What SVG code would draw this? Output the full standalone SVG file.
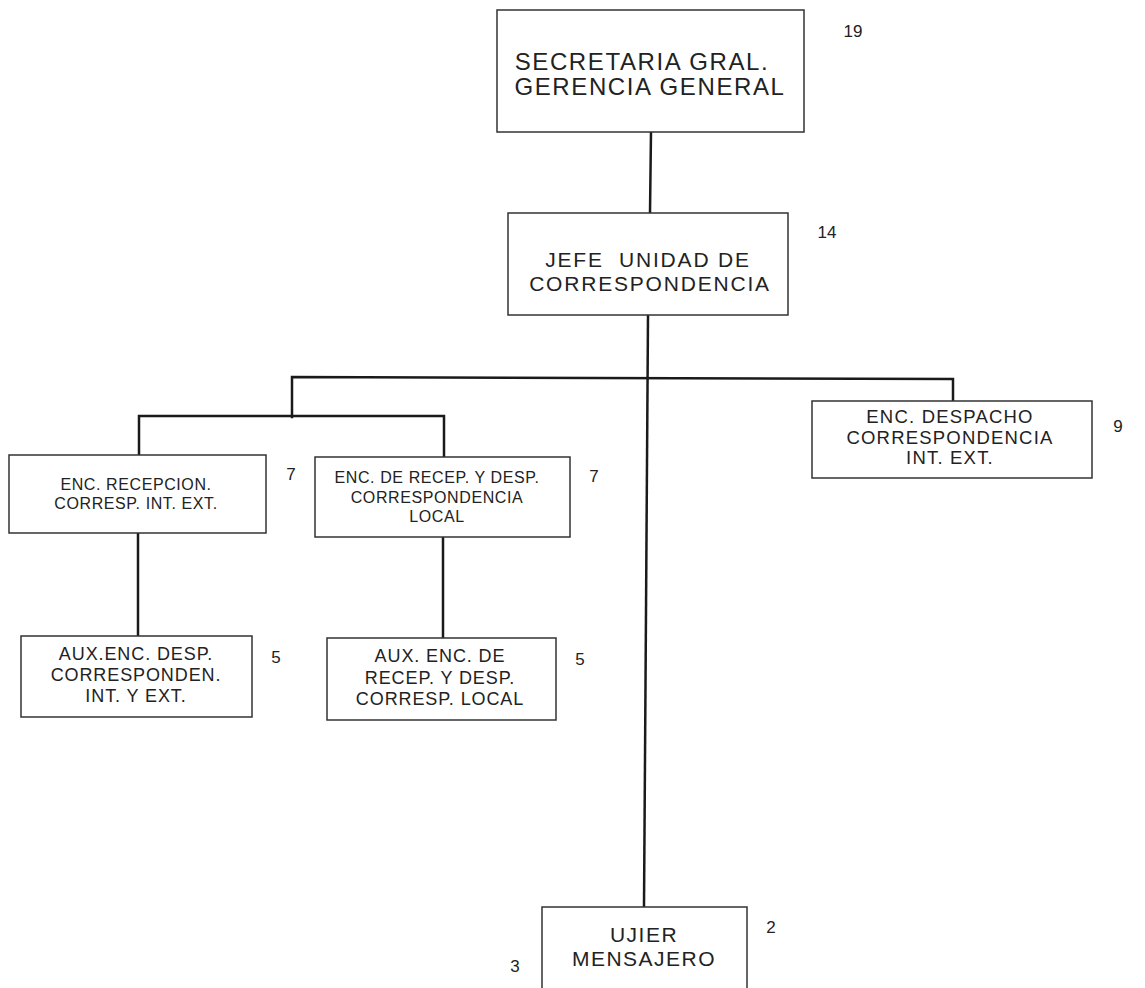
<svg xmlns="http://www.w3.org/2000/svg" width="1145" height="988" viewBox="0 0 1145 988">
<style>
.box{fill:#fff;stroke:#333;stroke-width:1.5}
.conn{fill:none;stroke:#1a1a1a;stroke-width:2.5;stroke-linecap:square}
text{font-family:"Liberation Sans",Arial,sans-serif;fill:#222;text-anchor:middle}
.num{font-size:17px;text-anchor:middle}
</style>
<rect width="1145" height="988" fill="#fff"/>
<g id="connectors">
<line class="conn" x1="651" y1="132" x2="650" y2="213"/>
<line class="conn" x1="648" y1="315" x2="644" y2="907"/>
<polyline class="conn" points="292,417 292,377 953,379 953,401"/>
<polyline class="conn" points="139,456 139,416 444,416 444,457"/>
<line class="conn" x1="138" y1="533" x2="138" y2="636"/>
<line class="conn" x1="443" y1="537" x2="443" y2="638"/>
</g>
<g id="n-secretaria">
<rect class="box" x="497" y="10" width="307" height="122"/>
<text x="642" y="70" font-size="24" letter-spacing="1.6">SECRETARIA GRAL.</text>
<text x="650" y="95" font-size="24" letter-spacing="1.6">GERENCIA GENERAL</text>
<text class="num" x="853" y="37">19</text>
</g>
<g id="n-jefe">
<rect class="box" x="508" y="213" width="280" height="102"/>
<text x="648" y="267" font-size="21" letter-spacing="1.8" xml:space="preserve">JEFE  UNIDAD DE</text>
<text x="650" y="291" font-size="21" letter-spacing="1.8">CORRESPONDENCIA</text>
<text class="num" x="827" y="238">14</text>
</g>
<g id="n-enc-recepcion">
<rect class="box" x="9" y="455" width="257" height="78"/>
<text x="136" y="490" font-size="16" letter-spacing="0.6">ENC. RECEPCION.</text>
<text x="136" y="509" font-size="16" letter-spacing="0.6">CORRESP. INT. EXT.</text>
<text class="num" x="291" y="480">7</text>
</g>
<g id="n-enc-recep-desp">
<rect class="box" x="315" y="457" width="255" height="80"/>
<text x="437" y="483" font-size="16" letter-spacing="0.6">ENC. DE RECEP. Y DESP.</text>
<text x="437" y="503" font-size="16" letter-spacing="0.6">CORRESPONDENCIA</text>
<text x="437" y="522" font-size="16" letter-spacing="0.6">LOCAL</text>
<text class="num" x="594" y="482">7</text>
</g>
<g id="n-enc-despacho">
<rect class="box" x="812" y="401" width="280" height="77"/>
<text x="950" y="423" font-size="18.5" letter-spacing="1.2">ENC. DESPACHO</text>
<text x="950" y="444" font-size="18.5" letter-spacing="1.2">CORRESPONDENCIA</text>
<text x="950" y="464" font-size="18.5" letter-spacing="1.2">INT. EXT.</text>
<text class="num" x="1118" y="432">9</text>
</g>
<g id="n-aux-desp">
<rect class="box" x="21" y="636" width="231" height="81"/>
<text x="136" y="660" font-size="18" letter-spacing="0.9">AUX.ENC. DESP.</text>
<text x="136" y="681" font-size="18" letter-spacing="0.9">CORRESPONDEN.</text>
<text x="136" y="702" font-size="18" letter-spacing="0.9">INT. Y EXT.</text>
<text class="num" x="276" y="663">5</text>
</g>
<g id="n-aux-recep">
<rect class="box" x="327" y="638" width="229" height="82"/>
<text x="440" y="662" font-size="18" letter-spacing="0.9">AUX. ENC. DE</text>
<text x="440" y="684" font-size="18" letter-spacing="0.9">RECEP. Y DESP.</text>
<text x="440" y="705" font-size="18" letter-spacing="0.9">CORRESP. LOCAL</text>
<text class="num" x="580" y="665">5</text>
</g>
<g id="n-ujier">
<rect class="box" x="542" y="907" width="205" height="90"/>
<text x="644" y="942" font-size="21" letter-spacing="1.5">UJIER</text>
<text x="644" y="966" font-size="21" letter-spacing="1.5">MENSAJERO</text>
<text class="num" x="771" y="933">2</text>
<text class="num" x="515" y="972">3</text>
</g>
</svg>
